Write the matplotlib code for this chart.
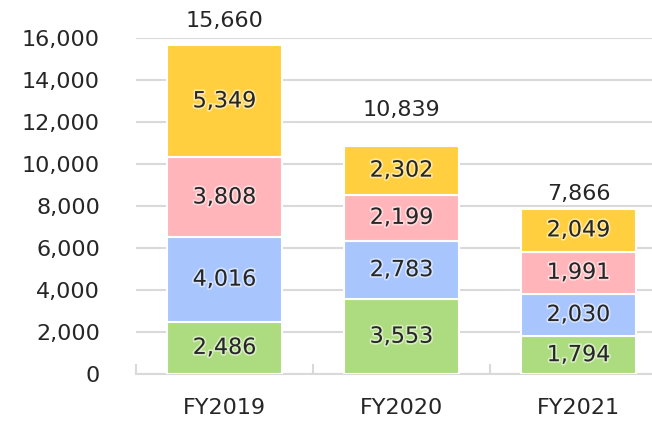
import matplotlib.pyplot as plt
import matplotlib.patheffects as pe
import numpy as np

# data
years = ['FY2019', 'FY2020', 'FY2021']
seg_green = [2486, 3553, 1794]
seg_blue = [4016, 2783, 2030]
seg_pink = [3808, 2199, 1991]
seg_yellow = [5349, 2302, 2049]
totals = [15660, 10839, 7866]

colors = ['#ADDB7F', '#A8C5FD', '#FFB5BA', '#FFCF3F']
txt = '#262626'
grid = '#D9D9D9'
# how far the total label sits above each bar (pixels)
total_offsets = [24, 36, 15]

fig = plt.figure(figsize=(6.52, 4.21), dpi=100)
ax = fig.add_axes([136 / 652, 47 / 421, 531 / 652, 336 / 421])

xpos = np.arange(len(years))
bottom = np.zeros(len(years))
halo = [pe.withStroke(linewidth=2.5, foreground='white', alpha=0.5)]

for vals, c in zip([seg_green, seg_blue, seg_pink, seg_yellow], colors):
    ax.bar(xpos, vals, bottom=bottom, width=0.65, color=c,
           edgecolor='white', linewidth=1.5, zorder=3)
    for x, b, v in zip(xpos, bottom, vals):
        ax.text(x, b + v / 2, f'{v:,}', ha='center', va='center',
                fontsize=16, color=txt, zorder=4, path_effects=halo)
    bottom += np.array(vals)

for x, t, off in zip(xpos, totals, total_offsets):
    ax.annotate(f'{t:,}', (x, t), xytext=(0, off * 0.72), textcoords='offset points',
                ha='center', va='center', fontsize=16, color=txt,
                annotation_clip=False)

ax.set_xlim(-0.5, 2.5)
ax.set_ylim(0, 16000)
ax.set_yticks(range(0, 16001, 2000))
ax.set_yticklabels([f'{v:,}' for v in range(0, 16001, 2000)])
ax.yaxis.grid(True, color=grid, linewidth=1.5, zorder=0)
ax.set_axisbelow(True)

ax.set_xticks(xpos)
ax.set_xticklabels(years)
ax.set_xticks([-0.5, 0.5, 1.5, 2.5], minor=True)
ax.tick_params(axis='x', which='major', length=0, pad=17, labelsize=16, labelcolor=txt)
ax.tick_params(axis='x', which='minor', direction='in', length=7, color=grid, width=1.5)
ax.tick_params(axis='y', length=0, pad=26, labelsize=16, labelcolor=txt)

for s in ['top', 'right', 'left']:
    ax.spines[s].set_visible(False)
ax.spines['bottom'].set_color(grid)
ax.spines['bottom'].set_linewidth(1.5)

fig.savefig('out.png', dpi=100)
